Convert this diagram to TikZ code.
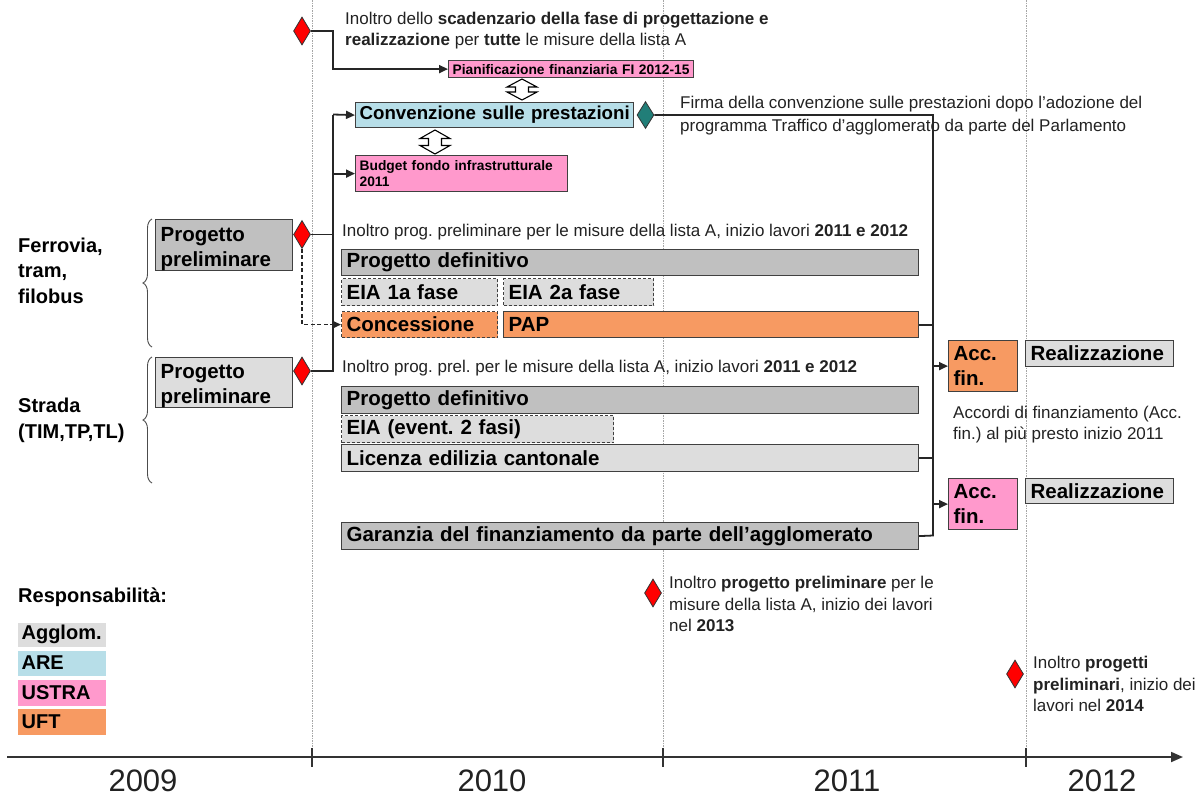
\documentclass[tikz,border=0pt]{standalone}
\usepackage{fontspec}
\setmainfont{Liberation Sans}
\usetikzlibrary{arrows.meta,shapes.geometric,decorations.pathreplacing}
\definecolor{dgray}{HTML}{C0C0C0}
\definecolor{lgray}{HTML}{DDDDDD}
\definecolor{bluec}{HTML}{B7DEE8}
\definecolor{pinkc}{HTML}{FF99CC}
\definecolor{orangec}{HTML}{F79A62}
\definecolor{tealc}{HTML}{217E78}
\definecolor{bdr}{HTML}{404040}
\definecolor{txt}{HTML}{222222}
\frenchspacing
\begin{document}
\begin{tikzpicture}[x=1pt,y=-1pt,
  box/.style={draw=bdr, line width=1.2pt, inner xsep=5pt, inner ysep=0pt, anchor=north west, align=left, font=\bfseries\fontsize{20.5}{25}\selectfont},
  dbox/.style={box, dash pattern=on 3pt off 2pt},
  small/.style={font=\bfseries\fontsize{13.8}{16}\selectfont, inner xsep=4pt},
  note/.style={anchor=west, inner sep=0pt, align=left, text=txt, font=\fontsize{17}{21.5}\selectfont},
  lbl/.style={anchor=west, inner sep=0pt, align=left, font=\bfseries\fontsize{20}{25.5}\selectfont},
  ms/.style={diamond, draw=black!80, line width=0.8pt, fill=red, inner sep=0pt, minimum width=17pt, minimum height=28pt},
  conn/.style={line width=1.8pt, black!85},
  arr/.style={-{Triangle[length=9pt,width=8pt]}},
  gridl/.style={gray!70, line width=0.7pt, dash pattern=on 1.5pt off 1pt},
  year/.style={font=\fontsize{31}{31}\selectfont, text=txt},
  hol/.style={draw=black, line width=1.1pt, fill=white, line join=miter},
  brc/.style={decorate, decoration={brace, amplitude=9pt}, draw=gray!60!black, line width=0.9pt},
]
\useasboundingbox (0,0) rectangle (1204,801);

% grid lines
\draw[gridl] (312,0) -- (312,757);
\draw[gridl] (663,0) -- (663,757);
\draw[gridl] (1026,0) -- (1026,757);

% axis
\draw[line width=1.8pt, black!80, -{Triangle[length=12pt,width=10pt]}] (7,757) -- (1183,757);
\draw[line width=1.2pt, black!80] (312,748) -- (312,767);
\draw[line width=1.2pt, black!80] (663,748) -- (663,767);
\draw[line width=1.2pt, black!80] (1026,748) -- (1026,767);
\node[year] (y9) at (143,781) {2009};
\node[year] (y10) at (492,781) {2010};
\node[year] (y11) at (847,781) {2011};
\node[year] (y12) at (1102,781) {2012};

% boxes
\node[box, fill=pinkc, small, text width=237pt, minimum height=17pt] (pian) at (448,60) {\mbox{Pianificazione finanziaria FI 2012-15}};
\node[box, fill=bluec, inner xsep=4pt, text width=270pt, minimum height=25pt, font=\bfseries\fontsize{18.7}{23}\selectfont] (conv) at (355,102) {\mbox{Convenzione sulle prestazioni}};
\node[box, fill=pinkc, small, text width=204pt, minimum height=36pt] (budget) at (355,155) {\mbox{Budget fondo infrastrutturale}\\2011};

\node[box, fill=dgray, text width=127pt, minimum height=51pt, text height=22pt, text depth=29pt] (ppf) at (155,219) {Progetto\\preliminare};
\node[box, fill=lgray, text width=127pt, minimum height=50pt, text height=21pt, text depth=29pt] (pps) at (155,357) {Progetto\\preliminare};

\node[box, fill=dgray, text width=567pt, minimum height=26pt] (pdf) at (341,249) {Progetto definitivo};
\node[dbox, fill=lgray, text width=146pt, minimum height=27pt] (eia1) at (341,278) {EIA 1a fase};
\node[dbox, fill=lgray, text width=140pt, minimum height=27pt] (eia2) at (503,278) {EIA 2a fase};
\node[dbox, fill=orangec, text width=146pt, minimum height=26pt] (conc) at (341,311) {Concessione};
\node[box, fill=orangec, text width=405pt, minimum height=26pt] (pap) at (503,311) {PAP};

\node[box, fill=dgray, text width=567pt, minimum height=27pt] (pds) at (341,386) {Progetto definitivo};
\node[dbox, fill=lgray, text width=262pt, minimum height=27pt] (eias) at (341,415) {EIA (event. 2 fasi)};
\node[box, fill=lgray, text width=567pt, minimum height=27pt] (lic) at (341,444) {Licenza edilizia cantonale};
\node[box, fill=dgray, text width=567pt, minimum height=27pt] (gar) at (341,522) {Garanzia del finanziamento da parte dell’agglomerato};

\node[box, fill=orangec, text width=59pt, minimum height=51pt] (acc1) at (948,340) {Acc.\\fin.};
\node[box, fill=lgray, text width=138pt, minimum height=26pt] (real1) at (1025,340) {Realizzazione};
\node[box, fill=pinkc, text width=59pt, minimum height=51pt] (acc2) at (948,478) {Acc.\\fin.};
\node[box, fill=lgray, text width=138pt, minimum height=25pt] (real2) at (1025,478) {Realizzazione};

% legend
\node[box, draw=none, fill=lgray, inner xsep=4pt, text width=80pt, minimum height=24pt, font=\bfseries\fontsize{20}{24}\selectfont] (lg1) at (17,622) {\mbox{Agglom.}};
\node[box, draw=none, fill=bluec, inner xsep=4pt, text width=80pt, minimum height=25pt, font=\bfseries\fontsize{20}{24}\selectfont] (lg2) at (17,650) {ARE};
\node[box, draw=none, fill=pinkc, inner xsep=4pt, text width=80pt, minimum height=26pt, font=\bfseries\fontsize{20}{24}\selectfont] (lg3) at (17,679) {USTRA};
\node[box, draw=none, fill=orangec, inner xsep=4pt, text width=80pt, minimum height=26pt, font=\bfseries\fontsize{20}{24}\selectfont] (lg4) at (17,708) {UFT};

% labels
\node[lbl] (fer) at (18,270.5) {Ferrovia,\\tram,\\filobus};
\node[lbl] (str) at (18,420.5) {Strada\\(TIM,TP,TL)};
\node[lbl] (resp) at (18,597) {Responsabilità:};
\draw[brc] (152,347) -- (152,219);
\draw[brc] (152,483) -- (152,357);

% milestones
\node[ms] (d0) at (302,31) {};
\node[ms] (df) at (302,234.5) {};
\node[ms] (ds) at (302,371) {};
\node[ms, fill=tealc, minimum height=27pt] (dt) at (645.5,115) {};
\node[ms] (db1) at (653,593) {};
\node[ms] (db2) at (1015,674) {};

% notes
\node[note] (n0) at (345,30.5) {Inoltro dello \textbf{scadenzario della fase di progettazione e}\\\textbf{realizzazione} per \textbf{tutte} le misure della lista A};
\node[note] (n1) at (342,232) {Inoltro prog. preliminare per le misure della lista A, inizio lavori \textbf{2011 e 2012}};
\node[note] (n2) at (342,368) {Inoltro prog. prel. per le misure della lista A, inizio lavori \textbf{2011 e 2012}};
\node[note, font=\fontsize{17}{23}\selectfont] (n3) at (680,115.5) {Firma della convenzione sulle prestazioni dopo l’adozione del\\programma Traffico d’agglomerato da parte del Parlamento};
\node[note] (n4) at (953,424.5) {Accordi di finanziamento (Acc.\\fin.) al più presto inizio 2011};
\node[note] (n5) at (669,604) {Inoltro \textbf{progetto preliminare} per le\\misure della lista A, inizio dei lavori\\nel \textbf{2013}};
\node[note] (n6) at (1033,684) {Inoltro \textbf{progetti}\\\textbf{preliminari}, inizio dei\\lavori nel \textbf{2014}};

% hollow double arrows
\draw[hol] (522,79) -- (537,87) -- (528.5,87) -- (528.5,92) -- (537,92) -- (522,100) -- (507,92) -- (515.5,92) -- (515.5,87) -- (507,87) -- cycle;
\draw[hol] (435,130) -- (450,138.5) -- (441.5,138.5) -- (441.5,145.5) -- (450,145.5) -- (435,154) -- (420,145.5) -- (428.5,145.5) -- (428.5,138.5) -- (420,138.5) -- cycle;

% connectors
\coordinate (k0) at (333,31);
\draw[conn,arr] (d0.east) -- (k0) |- (pian.west);
\coordinate (lt) at (333,114.5);
\coordinate (lb) at (333,371);
\draw[conn] (ds.east) -- (lb) -- (lt);
\draw[conn,arr] (lt) -- (conv.west);
\draw[conn] (df.east) -- (df.east -| lt);
\draw[conn,arr] (lt |- budget.west) -- (budget.west);
\draw[conn,line width=1.4pt,dash pattern=on 4pt off 2.5pt,arr] (df.south) |- (conc.west);

\coordinate (rt) at (933,115);
\coordinate (rb) at (933,535.5);
\draw[conn] (dt.east) -- (rt) -- (rb) -- (gar.east);
\draw[conn] (pap.east) -- (pap.east -| rt);
\draw[conn] (lic.east) -- (lic.east -| rt);
\draw[conn,arr] (acc1.west -| rt) -- (acc1.west);
\draw[conn,arr] (acc2.west -| rt) -- (acc2.west);
\end{tikzpicture}
\end{document}
